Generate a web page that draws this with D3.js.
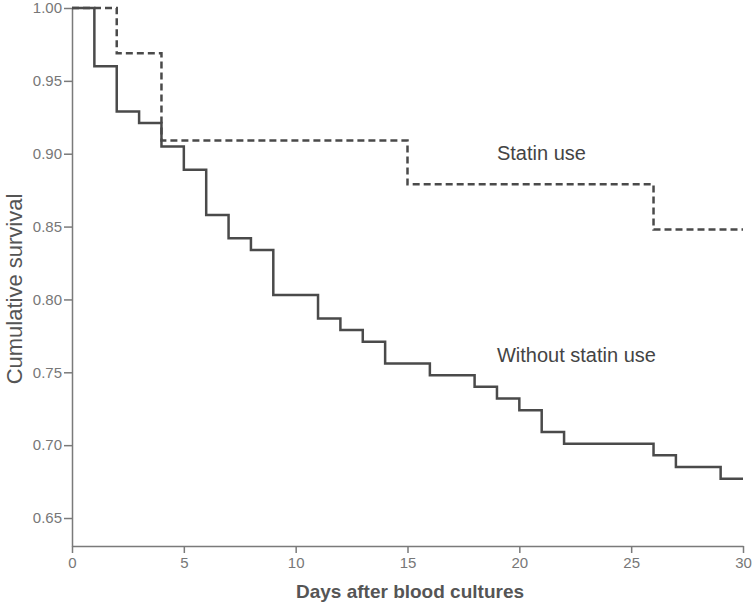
<!DOCTYPE html>
<html>
<head>
<meta charset="utf-8">
<script src="https://cdn.jsdelivr.net/npm/d3@7"></script>
<style>
  body { margin: 0; background: #fff; }
  svg { font-family: "Liberation Sans", Arial, sans-serif; }
</style>
</head>
<body>
<div id="chart"></div>
<script>
var width = 756;
var height = 606;

// Kaplan-Meier steps
var noStatinDays = [0, 1, 2, 3, 4, 5, 6, 7, 8, 9, 11, 12, 13, 14, 16, 18, 19, 20, 21, 22, 26, 27, 29, 30];
var noStatinSurv = [1.00, 0.960, 0.929, 0.921, 0.905, 0.889, 0.858, 0.842, 0.834, 0.803, 0.787, 0.779, 0.771, 0.756, 0.748, 0.740, 0.732, 0.724, 0.709, 0.701, 0.693, 0.685, 0.677, 0.677];
var statinDays = [0, 2, 4, 15, 26, 30];
var statinSurv = [1.00, 0.969, 0.909, 0.879, 0.848, 0.848];

var xTicks = [0, 5, 10, 15, 20, 25, 30];
var yTicks = [0.65, 0.70, 0.75, 0.80, 0.85, 0.90, 0.95, 1.00];

var svg = d3.select("#chart").append("svg").attr("width", width).attr("height", height);

var x = d3.scaleLinear().domain([0, 30]).range([72, 743]);
var y = d3.scaleLinear().domain([0.6308, 1.0]).range([546, 8]);

var axisColor = "#7a7a7a";

// x axis
var gx = svg.append("g").attr("transform", "translate(0,546)")
    .call(d3.axisBottom(x).tickValues(xTicks).tickSize(7).tickSizeOuter(0).tickPadding(4)
        .tickFormat(d3.format("d")));
gx.select(".domain").attr("stroke", axisColor).attr("stroke-width", 1.5);
gx.selectAll(".tick line").attr("stroke", axisColor).attr("stroke-width", 1.5);
gx.selectAll(".tick text").attr("fill", "#777").style("font-size", "15px");

// y axis
var gy = svg.append("g").attr("transform", "translate(72,0)")
    .call(d3.axisLeft(y).tickValues(yTicks).tickSize(8).tickSizeOuter(0).tickPadding(2)
        .tickFormat(d3.format(".2f")));
gy.select(".domain").attr("stroke", axisColor).attr("stroke-width", 1.5);
gy.selectAll(".tick line").attr("stroke", axisColor).attr("stroke-width", 1.5);
gy.selectAll(".tick text").attr("fill", "#777").style("font-size", "15px");

// axis titles
svg.append("text")
    .attr("x", 410).attr("y", 598)
    .attr("text-anchor", "middle")
    .attr("fill", "#555")
    .style("font-size", "19px").style("font-weight", "bold")
    .text("Days after blood cultures");

svg.append("text")
    .attr("transform", "translate(22,289) rotate(-90)")
    .attr("text-anchor", "middle")
    .attr("fill", "#555")
    .style("font-size", "22px")
    .text("Cumulative survival");

// survival curves
var stepLine = d3.line()
    .x(d => x(d[0]))
    .y(d => y(d[1]))
    .curve(d3.curveStepAfter);

svg.append("path")
    .attr("d", stepLine(d3.zip(noStatinDays, noStatinSurv)))
    .attr("fill", "none")
    .attr("stroke", "#4a4a4a")
    .attr("stroke-width", 2.5);

svg.append("path")
    .attr("d", stepLine(d3.zip(statinDays, statinSurv)))
    .attr("fill", "none")
    .attr("stroke", "#4a4a4a")
    .attr("stroke-width", 2.5)
    .attr("stroke-dasharray", "7,4");

// curve labels
svg.append("text")
    .attr("x", x(19)).attr("y", y(0.896))
    .attr("fill", "#444")
    .style("font-size", "20px")
    .text("Statin use");

svg.append("text")
    .attr("x", x(19)).attr("y", y(0.757))
    .attr("fill", "#444")
    .style("font-size", "20px")
    .text("Without statin use");
</script>
</body>
</html>
